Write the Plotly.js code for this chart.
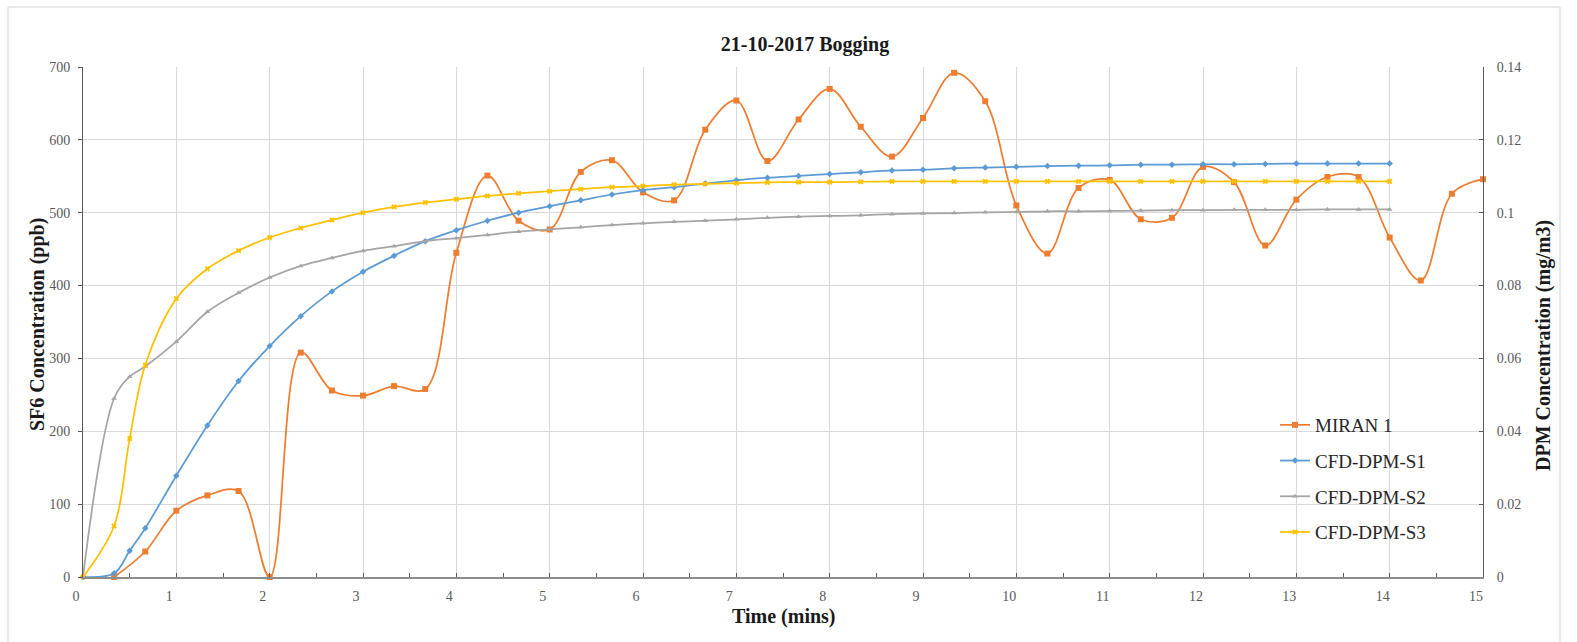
<!DOCTYPE html>
<html>
<head>
<meta charset="utf-8">
<script src="https://cdn.plot.ly/plotly-3.0.1.min.js"></script>
<style>
  html, body { margin: 0; padding: 0; background: #ffffff; }
  #chart { width: 1577px; height: 642px; }
</style>
</head>
<body>
<div id="chart"></div>
<script>
// Time axis (minutes) for the MIRAN 1 SF6 analyser readings
const timeMiran = [0.333, 0.667, 1, 1.333, 1.667, 2, 2.333, 2.667, 3, 3.333, 3.667,
  4, 4.333, 4.667, 5, 5.333, 5.667, 6, 6.333, 6.667, 7, 7.333, 7.667, 8, 8.333, 8.667,
  9, 9.333, 9.667, 10, 10.333, 10.667, 11, 11.333, 11.667, 12, 12.333, 12.667, 13,
  13.333, 13.667, 14, 14.333, 14.667, 15];

// SF6 concentration measured by MIRAN 1 (ppb)
const sf6Miran = [0, 35, 91, 112, 118, 0, 308, 256, 249, 262, 258,
  445, 551, 489, 477, 556, 572, 528, 517, 614, 654, 571, 628, 670, 618, 577,
  630, 692, 653, 510, 444, 534, 545, 491, 493, 563, 542, 455, 518,
  549, 549, 466, 407, 526, 546];

// Time axis (minutes) for the CFD DPM scenarios
const timeCfd = [0, 0.333, 0.5, 0.667, 1, 1.333, 1.667, 2, 2.333, 2.667, 3, 3.333, 3.667,
  4, 4.333, 4.667, 5, 5.333, 5.667, 6, 6.333, 6.667, 7, 7.333, 7.667, 8, 8.333, 8.667,
  9, 9.333, 9.667, 10, 10.333, 10.667, 11, 11.333, 11.667, 12, 12.333, 12.667, 13,
  13.333, 13.667, 14];

// DPM concentration from CFD (mg/m3)
const dpmS1 = [0, 0.001, 0.0072, 0.0134, 0.0278, 0.0416, 0.0538, 0.0634, 0.0716, 0.0784,
  0.0838, 0.0882, 0.0922, 0.0952, 0.0978, 0.1000, 0.1018, 0.1034, 0.1050, 0.1062, 0.1070,
  0.1080, 0.1089, 0.1096, 0.1101, 0.1106, 0.1111, 0.1116, 0.1118, 0.1122, 0.1124, 0.1126,
  0.1128, 0.1129, 0.1130, 0.1132, 0.1132, 0.1133, 0.1133, 0.1134, 0.1135, 0.1135, 0.1135, 0.1135];

const dpmS2 = [0, 0.049, 0.055, 0.0578, 0.0646, 0.0728, 0.0780, 0.0822, 0.0854, 0.0876,
  0.0895, 0.0908, 0.0922, 0.0930, 0.0939, 0.0948, 0.0954, 0.0960, 0.0966, 0.0971, 0.0975,
  0.0978, 0.0982, 0.0986, 0.0989, 0.0991, 0.0993, 0.0996, 0.0998, 0.0999, 0.1001, 0.1002,
  0.1004, 0.1004, 0.1005, 0.1006, 0.1007, 0.1007, 0.1008, 0.1008, 0.1008, 0.1009, 0.1009, 0.1009];

const dpmS3 = [0, 0.014, 0.038, 0.0582, 0.0764, 0.0846, 0.0896, 0.0932, 0.0958, 0.0980,
  0.1000, 0.1016, 0.1028, 0.1037, 0.1046, 0.1053, 0.1059, 0.1065, 0.1070, 0.1073, 0.1077,
  0.1079, 0.1081, 0.1083, 0.1084, 0.1084, 0.1085, 0.1086, 0.1086, 0.1086, 0.1086, 0.1086,
  0.1086, 0.1086, 0.1086, 0.1086, 0.1086, 0.1086, 0.1086, 0.1086, 0.1086, 0.1086, 0.1086, 0.1086];

const seriesNames = ['MIRAN 1', 'CFD-DPM-S1', 'CFD-DPM-S2', 'CFD-DPM-S3'];

const serif = '"Liberation Serif", "Times New Roman", serif';
const tickGrey = '#595959';
const gridGrey = '#d9d9d9';

function smoothTrace(name, x, y, axis, color, symbol, size) {
  return {
    type: 'scatter',
    mode: 'lines+markers',
    name: name,
    legendgroup: name,
    x: x,
    y: y,
    yaxis: axis,
    cliponaxis: false,
    line: { color: color, width: 1.75, shape: 'spline', smoothing: 1 },
    marker: { color: color, symbol: symbol, size: size, line: { width: 0 } }
  };
}

const traces = [
  smoothTrace(seriesNames[0], timeMiran, sf6Miran, 'y', '#ED7D31', 'square', 6),
  smoothTrace(seriesNames[1], timeCfd, dpmS1, 'y2', '#5B9BD5', 'diamond', 5),
  smoothTrace(seriesNames[2], timeCfd, dpmS2, 'y2', '#A5A5A5', 'triangle-up', 5),
  smoothTrace(seriesNames[3], timeCfd, dpmS3, 'y2', '#FFC000', 'x', 5)
];

// pixel helpers relative to the plotting area (83..1483 wide, 67..577 high)
const plotL = 83, plotR = 1483, plotT = 67, plotB = 577;
const px = v => (v - plotL) / (plotR - plotL);
const py = v => (plotB - v) / (plotB - plotT);

const layout = {
  width: 1577,
  height: 642,
  paper_bgcolor: '#ffffff',
  plot_bgcolor: '#ffffff',
  margin: { l: plotL, r: 1577 - plotR, t: plotT, b: 642 - plotB, pad: 0 },
  showlegend: true,
  title: {
    text: '21-10-2017 Bogging',
    font: { family: serif, size: 20, color: '#1a1a1a', weight: 'bold' },
    xref: 'container', x: 805 / 1577, xanchor: 'center',
    yref: 'container', y: 1 - 44 / 642, yanchor: 'middle'
  },
  xaxis: {
    range: [0, 15],
    dtick: 1,
    tick0: 0,
    showgrid: true,
    gridcolor: gridGrey,
    gridwidth: 1,
    zeroline: false,
    showline: true,
    linecolor: '#8c8c8c',
    linewidth: 2,
    ticks: 'inside',
    ticklen: 4,
    tickcolor: '#595959',
    minor: { dtick: 0.5, ticks: 'inside', ticklen: 4, tickcolor: '#595959', showgrid: false },
    ticklabelshift: -7,
    ticklabelstandoff: 5,
    tickfont: { family: serif, size: 14, color: tickGrey },
    fixedrange: true
  },
  yaxis: {
    range: [0, 700],
    dtick: 100,
    showgrid: true,
    gridcolor: gridGrey,
    gridwidth: 1,
    zeroline: false,
    showline: true,
    linecolor: '#595959',
    linewidth: 1,
    ticks: 'outside',
    ticklen: 4,
    tickcolor: '#595959',
    ticklabelstandoff: 5,
    tickfont: { family: serif, size: 14, color: tickGrey },
    fixedrange: true
  },
  yaxis2: {
    range: [0, 0.14],
    dtick: 0.02,
    overlaying: 'y',
    side: 'right',
    showgrid: false,
    zeroline: false,
    showline: true,
    linecolor: '#595959',
    linewidth: 1,
    ticks: 'inside',
    ticklen: 4,
    tickcolor: '#595959',
    ticklabelstandoff: 10,
    tickfont: { family: serif, size: 14, color: tickGrey },
    fixedrange: true
  },
  legend: {
    x: px(1275), xanchor: 'left',
    y: py(406), yanchor: 'top',
    bgcolor: 'rgba(0,0,0,0)',
    borderwidth: 0,
    tracegroupgap: 8,
    itemwidth: 30,
    font: { family: serif, size: 19, color: '#262626' }
  },
  annotations: [
    {
      text: 'SF6 Concentration (ppb)',
      xref: 'paper', yref: 'paper',
      x: px(37), y: py(325),
      xanchor: 'center', yanchor: 'middle',
      textangle: -90, showarrow: false,
      font: { family: serif, size: 20, color: '#1a1a1a', weight: 'bold' }
    },
    {
      text: 'DPM Concentration (mg/m3)',
      xref: 'paper', yref: 'paper',
      x: px(1543), y: py(346),
      xanchor: 'center', yanchor: 'middle',
      textangle: -90, showarrow: false,
      font: { family: serif, size: 20, color: '#1a1a1a', weight: 'bold' }
    },
    {
      text: 'Time (mins)',
      xref: 'paper', yref: 'paper',
      x: px(784), y: py(616),
      xanchor: 'center', yanchor: 'middle',
      showarrow: false,
      font: { family: serif, size: 20, color: '#1a1a1a', weight: 'bold' }
    }
  ],
  shapes: [
    {
      type: 'rect', xref: 'paper', yref: 'paper', layer: 'below',
      x0: px(8), x1: px(1560), y0: py(660), y1: py(7),
      line: { color: '#d4d4d4', width: 1 }, fillcolor: 'rgba(0,0,0,0)'
    }
  ]
};

Plotly.newPlot('chart', traces, layout, { displayModeBar: false, staticPlot: true });
</script>
</body>
</html>
